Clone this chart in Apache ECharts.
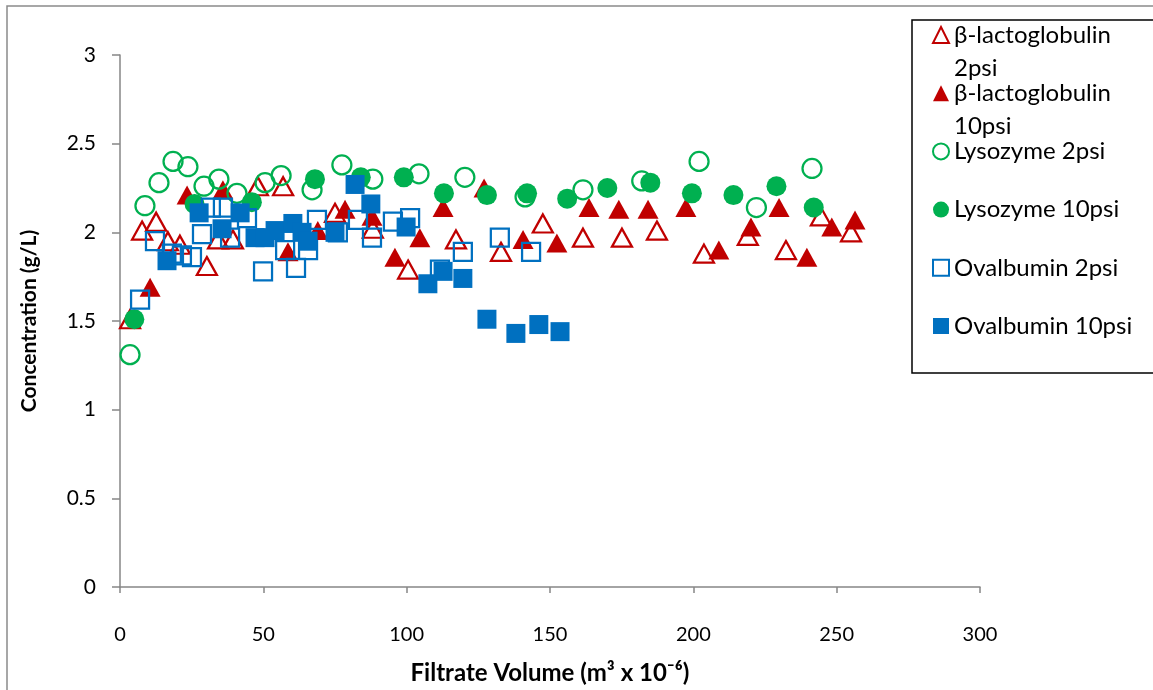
<!DOCTYPE html>
<html lang="en">
<head>
    <meta charset="UTF-8">
    <title>Concentration vs Filtrate Volume</title>
    <script type="text/javascript" src="https://cdn.jsdelivr.net/npm/echarts@6/dist/echarts.min.js"></script>
    <style>
        html, body { margin: 0; padding: 0; background: #fff; }
        #charts { width: 1153px; height: 690px; }
    </style>
</head>
<body>
<div id="charts"></div>
<script>
    // axis ticks
    var xTicks = [0, 50, 100, 150, 200, 250, 300]
    var yTicks = [0, 0.5, 1, 1.5, 2, 2.5, 3]

    // β-lactoglobulin 2psi (open triangles)
    var blg2X = [3.5, 7.7, 12.6, 16.7, 20.9, 30.3, 34.2, 39.4, 48.1, 56.9, 75, 88.2, 100.5, 117.2, 132.9, 147.5, 161.5, 175.1, 187.3, 203.7, 219, 232.3, 244.5, 255]
    var blg2Y = [1.51, 2.01, 2.06, 1.95, 1.93, 1.81, 1.96, 1.96, 2.26, 2.26, 2.11, 2.02, 1.79, 1.96, 1.89, 2.05, 1.97, 1.97, 2.01, 1.88, 1.98, 1.90, 2.09, 2.00]

    // β-lactoglobulin 10psi (filled triangles)
    var blg10X = [10.5, 23.4, 35.9, 58.6, 69, 78.5, 87.9, 95.9, 104.6, 112.7, 127, 140.6, 152.4, 163.6, 174, 184.2, 197.4, 208.9, 220.1, 229.9, 239.6, 248.3, 256.4]
    var blg10Y = [1.69, 2.21, 2.24, 1.89, 2.01, 2.13, 2.09, 1.86, 1.97, 2.14, 2.25, 1.96, 1.94, 2.14, 2.13, 2.13, 2.14, 1.90, 2.03, 2.14, 1.86, 2.03, 2.07]

    // Lysozyme 2psi (open circles)
    var lys2X = [3.5, 8.7, 13.6, 18.5, 23.7, 29.3, 34.5, 40.8, 50.6, 56.2, 67, 77.4, 88.2, 104.3, 120.3, 141.3, 161.5, 182, 202, 222, 241.4]
    var lys2Y = [1.31, 2.15, 2.28, 2.40, 2.37, 2.26, 2.30, 2.22, 2.28, 2.32, 2.24, 2.38, 2.30, 2.33, 2.31, 2.20, 2.24, 2.29, 2.40, 2.14, 2.36]

    // Lysozyme 10psi (filled circles)
    var lys10X = [5, 26, 46, 68, 84, 99, 113, 128, 142, 156, 170, 185, 199.5, 214, 229, 242]
    var lys10Y = [1.51, 2.16, 2.17, 2.30, 2.31, 2.31, 2.22, 2.21, 2.22, 2.19, 2.25, 2.28, 2.22, 2.21, 2.26, 2.14]

    // Ovalbumin 2psi (open squares)
    var ova2X = [7, 12.2, 18.1, 21.6, 25.1, 28.6, 31.7, 35.9, 38.4, 44.3, 49.9, 57.6, 61.4, 65.6, 68.7, 76, 83, 87.9, 95.2, 101.2, 111.6, 119.6, 132.5, 143.4]
    var ova2Y = [1.62, 1.95, 1.88, 1.87, 1.86, 1.99, 2.14, 2.14, 1.97, 2.08, 1.78, 1.90, 1.80, 1.90, 2.07, 2.00, 2.07, 1.97, 2.06, 2.08, 1.79, 1.89, 1.97, 1.89]

    // Ovalbumin 10psi (filled squares)
    var ova10X = [16.4, 27.6, 35.6, 41.9, 47.1, 50.6, 54.1, 60.3, 63.5, 65.6, 75, 82, 87.5, 99.8, 107.4, 112.7, 119.6, 128, 138.1, 146.1, 153.5]
    var ova10Y = [1.84, 2.11, 2.02, 2.11, 1.97, 1.97, 2.01, 2.05, 2.00, 1.95, 2.00, 2.27, 2.16, 2.03, 1.71, 1.78, 1.74, 1.51, 1.43, 1.48, 1.44]

    var RED = '#C00000', GREEN = '#00B050', BLUE = '#0070C0'
    var FONT = 'Lato'

    function pairs(xs, ys) {
        var out = []
        for (var i = 0; i < xs.length; i++) out.push([xs[i], ys[i]])
        return out
    }

    function scatter(name, xs, ys, symbol, size, color, hollow) {
        return {
            name: name,
            type: 'scatter',
            symbol: symbol,
            symbolSize: size,
            data: pairs(xs, ys),
            itemStyle: hollow
                ? {color: 'rgba(255,255,255,0)', borderColor: color, borderWidth: 2.25, opacity: 1}
                : {color: color, opacity: 1},
            emphasis: {disabled: true}
        }
    }

    // legend text: 3 rows, the symbol sits on the middle one (= first text row)
    function legendText(name) {
        var rows
        if (name.indexOf('β-lactoglobulin ') === 0) {
            rows = [' ', 'β-lactoglobulin', name.replace('β-lactoglobulin ', '')]
        } else {
            rows = [' ', name, ' ']
        }
        return rows.map(function (r) { return '{a|' + r + '}' }).join('\n')
    }

    var chart = echarts.init(document.getElementById('charts'), null, {renderer: 'canvas'})
    chart.setOption({
        animation: false,
        backgroundColor: '#fff',
        grid: {left: 120, right: 173, top: 55, bottom: 103, containLabel: false},
        graphic: [
            // outer chart frame
            {type: 'rect', z: 0, shape: {x: 7, y: 6, width: 1170, height: 700},
                style: {fill: 'none', stroke: '#8a8a8a', lineWidth: 1.5}},
            // legend frame
            {type: 'rect', z: 0, shape: {x: 912, y: 20, width: 300, height: 353},
                style: {fill: 'none', stroke: '#000', lineWidth: 1.5}}
        ],
        legend: {
            orient: 'vertical',
            left: 932,
            top: -10,
            padding: 0,
            itemGap: -31.8,
            itemWidth: 16,
            itemHeight: 16,
            selectedMode: false,
            formatter: legendText,
            textStyle: {
                fontFamily: FONT, fontSize: 24, color: '#000',
                rich: {a: {fontFamily: FONT, fontSize: 24, color: '#000', lineHeight: 33}}
            },
            data: ['β-lactoglobulin 2psi', 'β-lactoglobulin 10psi', 'Lysozyme 2psi', 'Lysozyme 10psi', 'Ovalbumin 2psi', 'Ovalbumin 10psi']
        },
        xAxis: {
            type: 'value',
            min: xTicks[0],
            max: xTicks[xTicks.length - 1],
            interval: 50,
            name: 'Filtrate Volume (m³ x 10⁻⁶)',
            nameLocation: 'middle',
            nameGap: 74,
            nameTextStyle: {fontFamily: FONT, fontSize: 24, fontWeight: 'bold', color: '#000'},
            axisLine: {lineStyle: {color: '#868686', width: 1.5}},
            axisTick: {show: true, inside: false, length: 6, lineStyle: {color: '#868686', width: 1.5}},
            axisLabel: {fontFamily: FONT, fontSize: 20, color: '#000', margin: 38,
                formatter: function (v) { return xTicks.indexOf(v) >= 0 ? String(v) : '' }},
            splitLine: {show: false}
        },
        yAxis: {
            type: 'value',
            min: yTicks[0],
            max: yTicks[yTicks.length - 1],
            interval: 0.5,
            name: 'Concentration (g/L)',
            nameLocation: 'middle',
            nameGap: 80,
            nameTextStyle: {fontFamily: FONT, fontSize: 21, fontWeight: 'bold', color: '#000'},
            axisLine: {show: true, lineStyle: {color: '#868686', width: 1.5}},
            axisTick: {show: true, inside: false, length: 8, lineStyle: {color: '#868686', width: 1.5}},
            axisLabel: {fontFamily: FONT, fontSize: 21, color: '#000', margin: 24},
            splitLine: {show: false}
        },
        series: [
            scatter('β-lactoglobulin 2psi', blg2X, blg2Y, 'triangle', [20, 18], RED, true),
            scatter('β-lactoglobulin 10psi', blg10X, blg10Y, 'triangle', [21, 19], RED, false),
            scatter('Lysozyme 2psi', lys2X, lys2Y, 'circle', 19, GREEN, true),
            scatter('Lysozyme 10psi', lys10X, lys10Y, 'circle', 20, GREEN, false),
            scatter('Ovalbumin 2psi', ova2X, ova2Y, 'rect', 18, BLUE, true),
            scatter('Ovalbumin 10psi', ova10X, ova10Y, 'rect', 19, BLUE, false)
        ]
    })
</script>
</body>
</html>
